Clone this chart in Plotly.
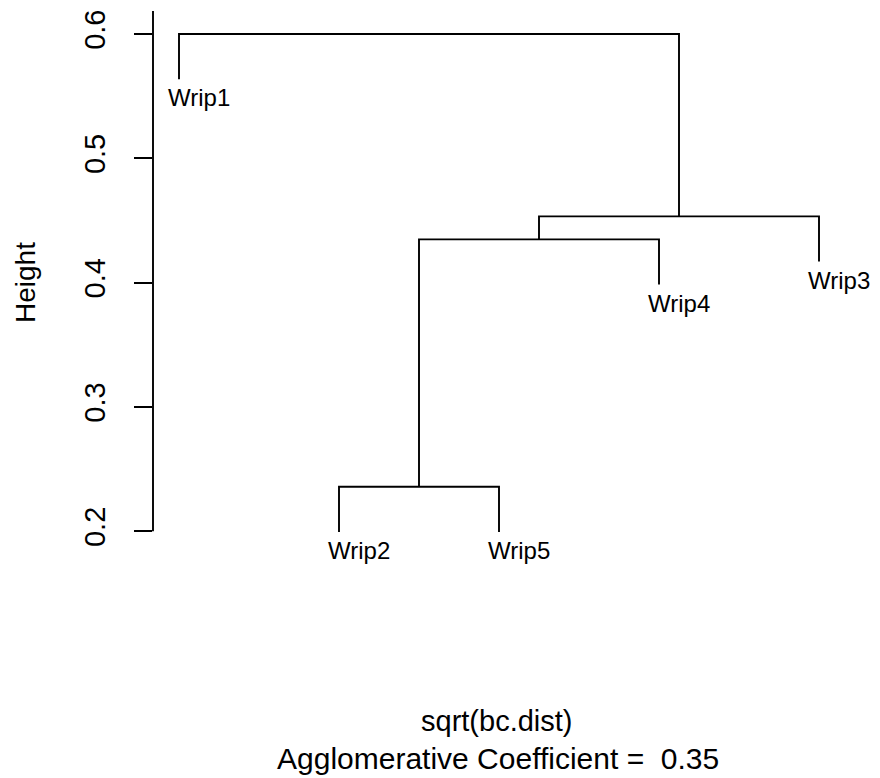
import plotly.graph_objects as go

# Agglomerative clustering of five samples (agnes on sqrt of Bray-Curtis distance)
labels = ["Wrip1", "Wrip2", "Wrip3", "Wrip4", "Wrip5"]
# merge table in R convention: negative = leaf index (1-based), positive = earlier merge
merge_pairs = [(-2, -5), (1, -4), (2, -3), (-1, 3)]
merge_heights = [0.2358, 0.4348, 0.4533, 0.6000]
leaf_order = [1, 2, 5, 4, 3]
y_ticks = [0.2, 0.3, 0.4, 0.5, 0.6]
x_title = "sqrt(bc.dist)"
sub_title = "Agglomerative Coefficient = \u00a00.35"

FONT = "Liberation Sans, Arial, Helvetica, sans-serif"
W, H = 880, 778
plot_left, plot_right, plot_top, plot_bottom = 153, 860, 11, 600
leaf1_px, leaf_step = 179, 160
top_px, unit_px = 34, 1243

# leaf positions along x follow the dendrogram order
leaf_x = {leaf: i + 1 for i, leaf in enumerate(leaf_order)}
hang = 0.1 * (max(merge_heights) - min(merge_heights))

node_x = {}
xs, ys = [], []


def child_pos(c):
    if c < 0:
        return leaf_x[-c], None
    return node_x[c], merge_heights[c - 1]


for k, ((a, b), h) in enumerate(zip(merge_pairs, merge_heights), start=1):
    xa, ha = child_pos(a)
    xb, hb = child_pos(b)
    ya = h - hang if ha is None else ha
    yb = h - hang if hb is None else hb
    xs += [xa, xa, xb, xb, None]
    ys += [ya, h, h, yb, None]
    node_x[k] = (xa + xb) / 2

fig = go.Figure()
fig.add_trace(go.Scatter(x=xs, y=ys, mode="lines",
                         line=dict(color="black", width=1.9),
                         hoverinfo="skip", showlegend=False))

# leaf labels hang below the end of each leaf line
leaf_bottom = {}
for (a, b), h in zip(merge_pairs, merge_heights):
    for c in (a, b):
        if c < 0:
            leaf_bottom[-c] = h - hang
for leaf, x in leaf_x.items():
    fig.add_annotation(x=x, y=leaf_bottom[leaf], text=labels[leaf - 1],
                       showarrow=False, xanchor="left", yanchor="top",
                       xshift=-13, yshift=-3,
                       font=dict(family=FONT, size=24, color="black"))

x_range = [1 + (plot_left - leaf1_px) / leaf_step, 1 + (plot_right - leaf1_px) / leaf_step]
y_range = [0.6 - (plot_bottom - top_px) / unit_px, 0.6 + (top_px - plot_top) / unit_px]
pw = plot_right - plot_left
ph = plot_bottom - plot_top


def paper_x(px):
    return (px - plot_left) / pw


def paper_y(py):
    return (plot_bottom - py) / ph


# y axis line runs from the lowest tick to the top of the plotting region
fig.add_shape(type="line", xref="paper", yref="y", x0=0, x1=0,
              y0=y_ticks[0], y1=y_range[1],
              line=dict(color="black", width=1.9))

fig.add_annotation(xref="paper", yref="paper", x=paper_x(25), y=paper_y(283),
                   text="Height", textangle=-90, showarrow=False,
                   xanchor="center", yanchor="middle",
                   font=dict(family=FONT, size=28, color="black"))
fig.add_annotation(xref="paper", yref="paper", x=paper_x(496), y=paper_y(721),
                   text=x_title, showarrow=False,
                   xanchor="center", yanchor="middle",
                   font=dict(family=FONT, size=29, color="black"))
fig.add_annotation(xref="paper", yref="paper", x=paper_x(498), y=paper_y(758),
                   text=sub_title, showarrow=False,
                   xanchor="center", yanchor="middle",
                   font=dict(family=FONT, size=30, color="black"))

fig.update_layout(
    width=W, height=H,
    margin=dict(l=plot_left, r=W - plot_right, t=plot_top, b=H - plot_bottom, autoexpand=False),
    paper_bgcolor="white", plot_bgcolor="white",
    xaxis=dict(range=x_range, visible=False, fixedrange=True),
    yaxis=dict(range=y_range, tickmode="array", tickvals=y_ticks,
               ticktext=[f"{v:.1f}" for v in y_ticks],
               ticks="outside", ticklen=18, tickwidth=1.9, tickcolor="black",
               tickangle=-90, ticklabelstandoff=17,
               tickfont=dict(family=FONT, size=29, color="black"),
               showgrid=False, zeroline=False, showline=False, fixedrange=True),
    font=dict(family=FONT),
)

fig.write_html("out.html")
